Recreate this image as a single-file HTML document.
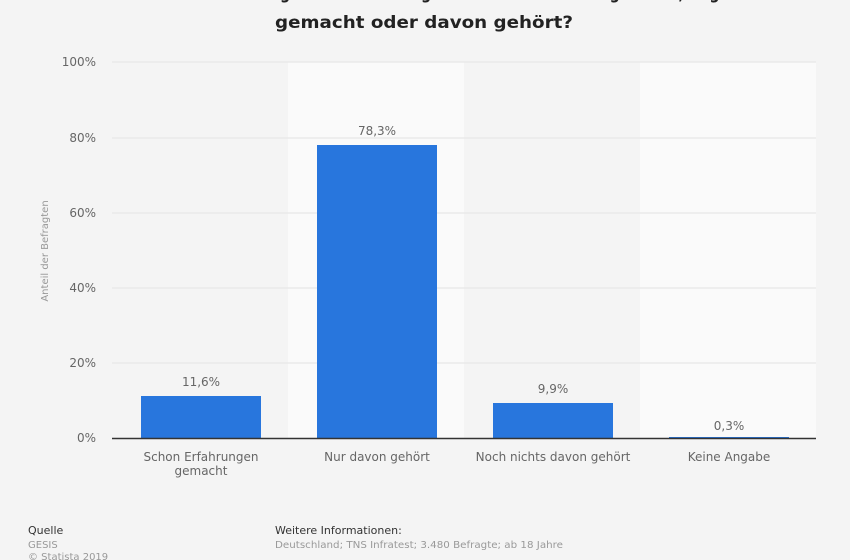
<!DOCTYPE html>
<html><head><meta charset="utf-8"><style>
html,body{margin:0;padding:0;background:#f4f4f4;}
svg{display:block;}
text{font-family:"DejaVu Sans","Liberation Sans",sans-serif;}
</style></head><body>
<svg width="850" height="560" viewBox="0 0 850 560" xmlns="http://www.w3.org/2000/svg">
<rect x="0" y="0" width="850" height="560" fill="#f4f4f4"/>
<text x="420" y="-1" text-anchor="middle" font-size="17" font-weight="bold" fill="#222" textLength="690" lengthAdjust="spacingAndGlyphs">Haben Sie schon Erfahrungen mit Tauschringen oder Tauschbörsen gemacht, Angebote</text>
<text x="424" y="28" text-anchor="middle" font-size="17" font-weight="bold" fill="#222" textLength="298" lengthAdjust="spacingAndGlyphs">gemacht oder davon gehört?</text>
<rect x="288" y="62" width="176" height="376" fill="#fafafa"/>
<rect x="640" y="62" width="176" height="376" fill="#fafafa"/>
<g stroke="#e3e3e3" stroke-width="1">
<line x1="112" y1="62" x2="816" y2="62"/>
<line x1="112" y1="138" x2="816" y2="138"/>
<line x1="112" y1="213" x2="816" y2="213"/>
<line x1="112" y1="288" x2="816" y2="288"/>
<line x1="112" y1="363" x2="816" y2="363"/>
</g>
<g font-size="12" fill="#666" text-anchor="end">
<text x="96" y="66">100%</text>
<text x="96" y="142">80%</text>
<text x="96" y="217">60%</text>
<text x="96" y="292">40%</text>
<text x="96" y="367">20%</text>
<text x="96" y="442">0%</text>
</g>
<text transform="translate(48,251) rotate(-90)" text-anchor="middle" font-size="10" fill="#999">Anteil der Befragten</text>
<g fill="#2876dd">
<rect x="141" y="396" width="120" height="42"/>
<rect x="317" y="145" width="120" height="293"/>
<rect x="493" y="403" width="120" height="35"/>
<rect x="669" y="437" width="120" height="1"/>
</g>
<line x1="112" y1="438.5" x2="816" y2="438.5" stroke="#333" stroke-width="1.5"/>
<g font-size="12" fill="#666" text-anchor="middle">
<text x="201" y="386">11,6%</text>
<text x="377" y="135">78,3%</text>
<text x="553" y="393">9,9%</text>
<text x="729" y="430">0,3%</text>
</g>
<g font-size="12" fill="#666" text-anchor="middle">
<text x="201" y="461">Schon Erfahrungen</text>
<text x="201" y="475">gemacht</text>
<text x="377" y="461">Nur davon gehört</text>
<text x="553" y="461">Noch nichts davon gehört</text>
<text x="729" y="461">Keine Angabe</text>
</g>
<g font-size="11">
<text x="28" y="534" fill="#333">Quelle</text>
<text x="28" y="548" fill="#999" font-size="10">GESIS</text>
<text x="28" y="560" fill="#999" font-size="10">© Statista 2019</text>
<text x="275" y="534" fill="#333">Weitere Informationen:</text>
<text x="275" y="548" fill="#999" font-size="10" textLength="288" lengthAdjust="spacingAndGlyphs">Deutschland; TNS Infratest; 3.480 Befragte; ab 18 Jahre</text>
</g>
</svg>
</body></html>
